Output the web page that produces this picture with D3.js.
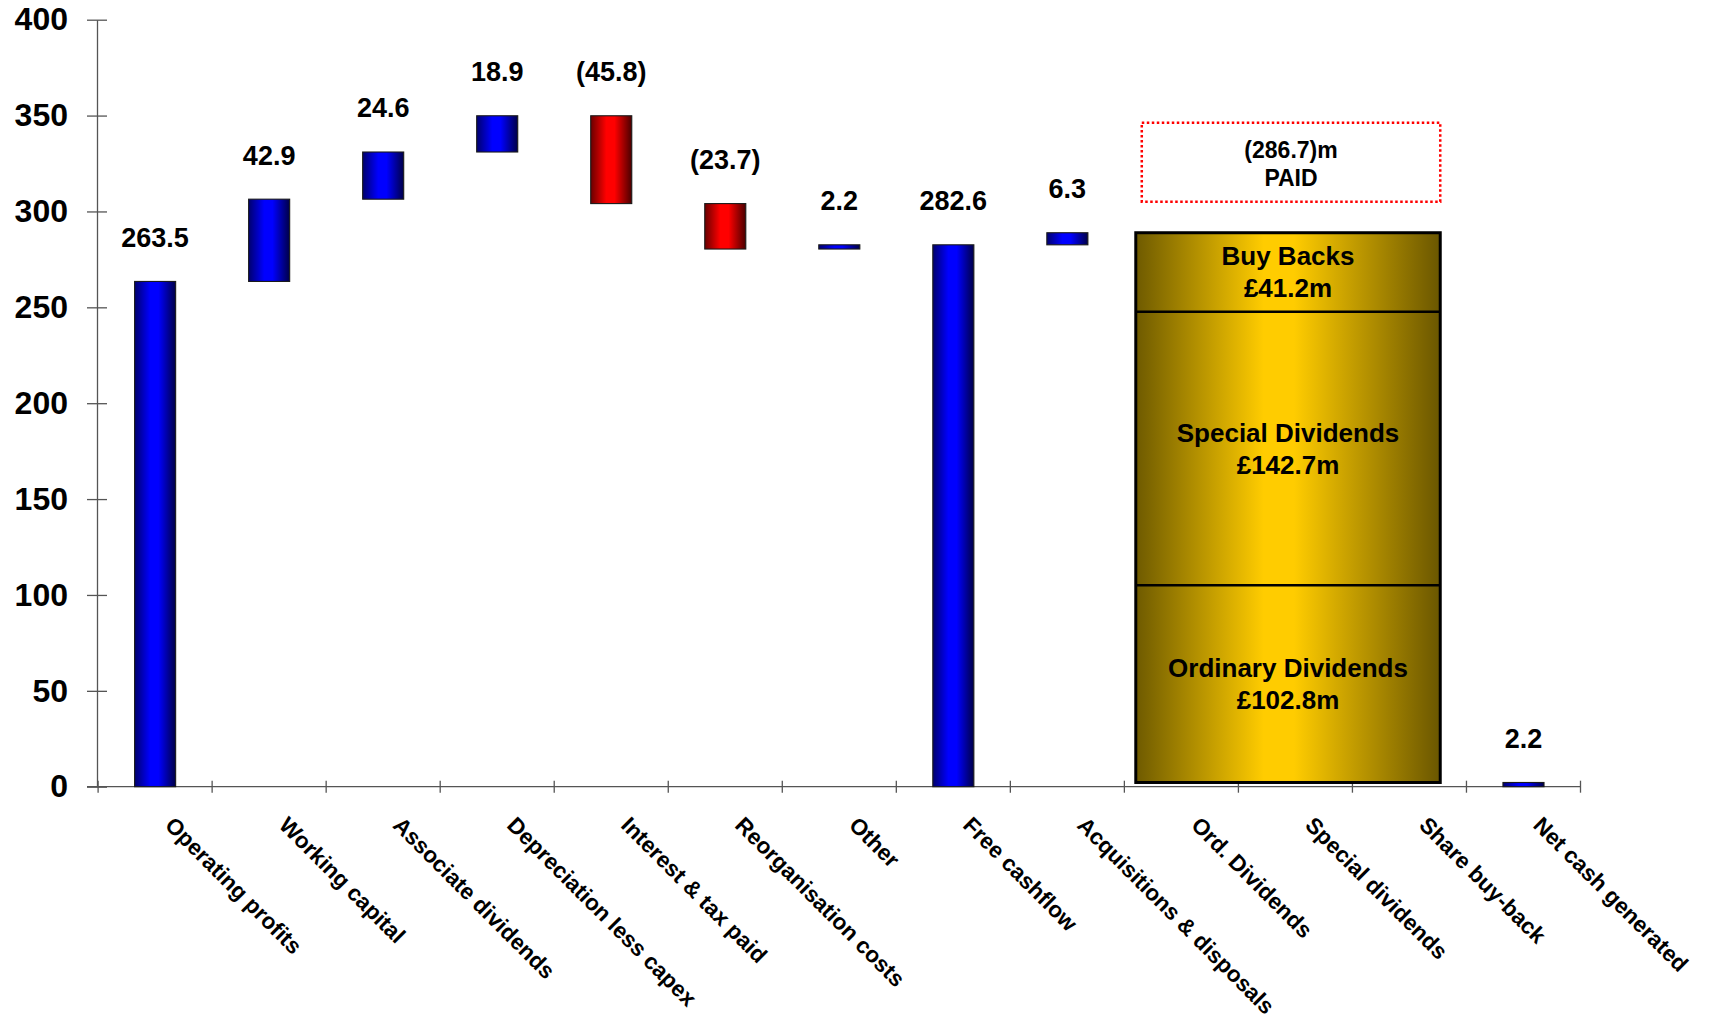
<!DOCTYPE html>
<html>
<head>
<meta charset="utf-8">
<script src="https://cdn.jsdelivr.net/npm/d3@7"></script>
<style>
  html, body { margin: 0; padding: 0; background: #fff; }
  svg text { font-family: "Liberation Sans", Arial, sans-serif; font-weight: bold; fill: #000; }
</style>
</head>
<body>
<svg id="chart" width="1709" height="1018"></svg>
<script>
// Cash flow bridge (£m)
const categories = [
  "Operating profits", "Working capital", "Associate dividends", "Depreciation less capex",
  "Interest & tax paid", "Reorganisation costs", "Other", "Free cashflow",
  "Acquisitions & disposals", "Ord. Dividends", "Special dividends", "Share buy-back",
  "Net cash generated"
];
const values = [263.5, 42.9, 24.6, 18.9, -45.8, -23.7, 2.2, 282.6, 6.3, -102.8, -142.7, -41.2, 2.2];
// "total" bars start at zero, "step" bars float on the running total, "paid" go into the returns block
const kinds = ["total", "step", "step", "step", "step", "step", "step", "total", "step", "paid", "paid", "paid", "total"];
const paidNames = ["Ordinary Dividends", "Special Dividends", "Buy Backs"];
const paidAmounts = [102.8, 142.7, 41.2];
const yTicks = [0, 50, 100, 150, 200, 250, 300, 350, 400];

const svg = d3.select("#chart");
const y = d3.scaleLinear().domain([0, 400]).range([786.7, 19.7]);
const x = d3.scaleBand().domain(categories).range([98.1, 1580.5]).padding(0);
const bw = x.bandwidth();
const barW = bw * 0.36;

// gradients
const defs = svg.append("defs");
function hGrad(id, stops) {
  const g = defs.append("linearGradient").attr("id", id)
    .attr("x1", "0%").attr("x2", "100%").attr("y1", "0%").attr("y2", "0%");
  stops.forEach(([o, c]) => g.append("stop").attr("offset", o).attr("stop-color", c));
}
hGrad("gBlue", [["0%", "#00006e"], ["38%", "#0000ff"], ["58%", "#0000ff"], ["100%", "#000048"]]);
hGrad("gRed", [["0%", "#6a0000"], ["38%", "#ff0000"], ["58%", "#ff0000"], ["100%", "#4a0000"]]);
hGrad("gGold", [["0%", "#6e5a00"], ["42%", "#ffcc00"], ["52%", "#ffcc00"], ["100%", "#6a5600"]]);

// waterfall geometry
let running = 0;
const bars = [];
categories.forEach((c, i) => {
  const v = values[i];
  if (kinds[i] === "total") {
    running = v;
    bars.push({ c, v, lo: 0, hi: v, label: v.toFixed(1), neg: false });
  } else if (kinds[i] === "step") {
    const start = running;
    running += v;
    bars.push({ c, v, lo: Math.min(start, running), hi: Math.max(start, running),
      label: v < 0 ? "(" + Math.abs(v).toFixed(1) + ")" : v.toFixed(1), neg: v < 0 });
  } else {
    running += v;
  }
});

// axes
const axisColor = "#555";
const yAxis = d3.axisLeft(y).tickValues(yTicks).tickSize(10).tickSizeOuter(0).tickPadding(19);
const yg = svg.append("g").attr("transform", "translate(97,0)").call(yAxis);
yg.select(".domain").attr("stroke", axisColor).attr("stroke-width", 1.3);
yg.selectAll(".tick line").attr("x1", -10).attr("x2", 10).attr("stroke", axisColor).attr("stroke-width", 1.3);
yg.selectAll(".tick text").attr("font-size", 32).attr("font-family", "Liberation Sans, Arial, sans-serif")
  .attr("font-weight", "bold").attr("fill", "#000");

const y0 = y(0);
svg.append("line").attr("x1", 87).attr("x2", x.range()[1]).attr("y1", y0).attr("y2", y0)
  .attr("stroke", axisColor).attr("stroke-width", 1.3);
const bounds = categories.map(c => x(c)).concat([x.range()[1]]);
svg.selectAll("line.xtick").data(bounds).join("line").attr("class", "xtick")
  .attr("x1", d => d).attr("x2", d => d).attr("y1", y0 - 6).attr("y2", y0 + 6)
  .attr("stroke", axisColor).attr("stroke-width", 1.3);

// category labels
svg.selectAll("text.cat").data(categories).join("text").attr("class", "cat")
  .attr("transform", d => `translate(${x(d) + bw / 2 + 20},${815}) rotate(45)`)
  .attr("dy", "0.72em").attr("font-size", 22.5).text(d => d);

// bars
svg.selectAll("rect.bar").data(bars).join("rect").attr("class", "bar")
  .attr("x", d => x(d.c) + (bw - barW) / 2).attr("width", barW)
  .attr("y", d => y(d.hi)).attr("height", d => y(d.lo) - y(d.hi))
  .attr("fill", d => d.neg ? "url(#gRed)" : "url(#gBlue)")
  .attr("stroke", "#1a1a1a").attr("stroke-width", 1.1);

// value labels
svg.selectAll("text.val").data(bars).join("text").attr("class", "val")
  .attr("x", d => x(d.c) + bw / 2).attr("y", d => y(d.hi) - 44)
  .attr("text-anchor", "middle").attr("dy", "0.35em").attr("font-size", 27)
  .text(d => d.label);

// shareholder returns block, stacked above the net cash figure
const paidIdx = kinds.map((k, i) => k === "paid" ? i : -1).filter(i => i >= 0);
const boxL = x(categories[paidIdx[0]]) + bw * 0.10;
const boxR = x(categories[paidIdx[paidIdx.length - 1]]) + bw * 0.77;
const base = bars[bars.length - 1].hi;
let acc = base;
const sections = paidNames.map((n, i) => {
  const s = { name: n, amt: paidAmounts[i], lo: acc, hi: acc + paidAmounts[i] };
  acc += paidAmounts[i];
  return s;
});
const boxTop = y(acc), boxBot = y(base);
svg.append("rect").attr("x", boxL).attr("y", boxTop).attr("width", boxR - boxL).attr("height", boxBot - boxTop)
  .attr("fill", "url(#gGold)").attr("stroke", "#000").attr("stroke-width", 3);
svg.selectAll("line.div").data(sections.slice(1)).join("line").attr("class", "div")
  .attr("x1", boxL).attr("x2", boxR).attr("y1", d => y(d.lo)).attr("y2", d => y(d.lo))
  .attr("stroke", "#000").attr("stroke-width", 2.5);
sections.forEach(s => {
  const cy = (y(s.lo) + y(s.hi)) / 2;
  const t = svg.append("text").attr("x", (boxL + boxR) / 2).attr("text-anchor", "middle").attr("font-size", 26);
  t.append("tspan").attr("x", (boxL + boxR) / 2).attr("y", cy - 16).attr("dy", "0.35em").text(s.name);
  t.append("tspan").attr("x", (boxL + boxR) / 2).attr("y", cy + 16).attr("dy", "0.35em").text("£" + s.amt.toFixed(1) + "m");
});

// total paid callout
const totalPaid = d3.sum(paidAmounts);
const cL = boxL + 6, cR = boxR, cT = 122.7, cB = 201.7;
svg.append("rect").attr("x", cL).attr("y", cT).attr("width", cR - cL).attr("height", cB - cT)
  .attr("fill", "none").attr("stroke", "#ff0000").attr("stroke-width", 2.5).attr("stroke-dasharray", "2.5 2.5");
const cx = (cL + cR) / 2;
svg.append("text").attr("x", cx).attr("y", 150).attr("dy", "0.35em").attr("text-anchor", "middle")
  .attr("font-size", 23).text("(" + totalPaid.toFixed(1) + ")m");
svg.append("text").attr("x", cx).attr("y", 178).attr("dy", "0.35em").attr("text-anchor", "middle")
  .attr("font-size", 23).text("PAID");
</script>
</body>
</html>
